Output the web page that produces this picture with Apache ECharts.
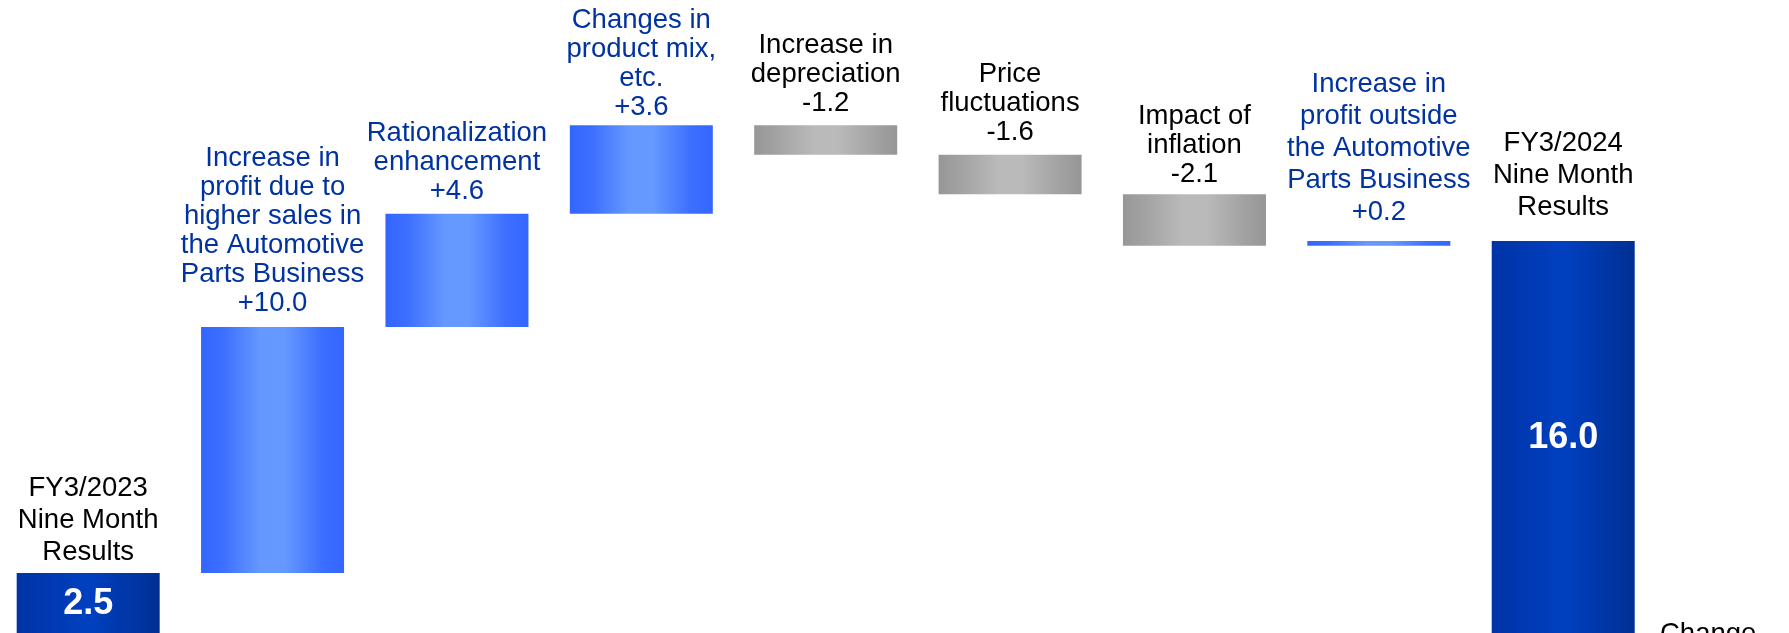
<!DOCTYPE html>
<html>
<head>
<meta charset="utf-8">
<script src="https://cdn.jsdelivr.net/npm/echarts@6/dist/echarts.min.js"></script>
<style>
html,body{margin:0;padding:0;background:#fff;}
#c{width:1789px;height:633px;}
</style>
</head>
<body>
<div id="c"></div>
<script>
// ---- data ----
const categories = [
  'FY3/2023\nNine Month\nResults',
  'Increase in\nprofit due to\nhigher sales in\nthe Automotive\nParts Business',
  'Rationalization\nenhancement',
  'Changes in\nproduct mix,\netc.',
  'Increase in\ndepreciation',
  'Price\nfluctuations',
  'Impact of\ninflation',
  'Increase in\nprofit outside\nthe Automotive\nParts Business',
  'FY3/2024\nNine Month\nResults'
];
const values = [2.5, 10.0, 4.6, 3.6, -1.2, -1.6, -2.1, 0.2, 16.0];
const kinds = ['total','delta','delta','delta','delta','delta','delta','delta','total'];
const footnote = 'Change';

// ---- label styling (per bar) ----
const labelGap = [5, 8.7, 7.6, 3.5, 7.6, 7.6, 5.5, 12.3, 17];
const labelLineHeight = [32, 29, 29, 29, 29, 29, 29, 32, 32];

// ---- derived ----
const blueGrad = new echarts.graphic.LinearGradient(0,0,1,0,[
  {offset:0,color:'#3366ff'},{offset:0.15,color:'#3c6eff'},
  {offset:0.42,color:'#6699ff'},{offset:0.58,color:'#6699ff'},
  {offset:0.85,color:'#3c6eff'},{offset:1,color:'#3366ff'}]);
const greyGrad = new echarts.graphic.LinearGradient(0,0,1,0,[
  {offset:0,color:'#979797'},{offset:0.15,color:'#a2a2a2'},
  {offset:0.42,color:'#bababa'},{offset:0.58,color:'#bababa'},
  {offset:0.85,color:'#a2a2a2'},{offset:1,color:'#969696'}]);
const darkGrad = new echarts.graphic.LinearGradient(0,0,1,0,[
  {offset:0,color:'#0033a6'},{offset:0.5,color:'#0040c0'},{offset:1,color:'#002f94'}]);

const baseData = [], visData = [], overlayData = [];
let cum = 0;
values.forEach((v, i) => {
  if (kinds[i] === 'total') {
    cum = v;
    baseData.push(0);
    visData.push({
      value: v,
      itemStyle: {color: darkGrad},
      label: {show: true, position: 'top', distance: labelGap[i], color: '#000',
        lineHeight: labelLineHeight[i], formatter: () => categories[i]}
    });
    overlayData.push(v);
  } else {
    const next = cum + v;
    baseData.push(Math.min(cum, next));
    visData.push({
      value: Math.abs(v),
      itemStyle: {color: v >= 0 ? blueGrad : greyGrad},
      label: {show: true, position: 'top', distance: labelGap[i], lineHeight: labelLineHeight[i],
        color: v >= 0 ? '#0033a0' : '#000',
        formatter: () => categories[i] + '\n' + (v >= 0 ? '+' : '') + v.toFixed(1)}
    });
    overlayData.push('-');
    cum = next;
  }
});

const FONT = '"Liberation Sans", Arial, sans-serif';
const chart = echarts.init(document.getElementById('c'), null, {renderer: 'canvas'});
chart.setOption({
  animation: false,
  backgroundColor: '#fff',
  textStyle: {fontFamily: FONT},
  grid: {left: -4, width: 1659.4, top: 19.5, height: 615, containLabel: false, outerBoundsMode: 'none'},
  xAxis: {type: 'category', data: categories, show: false},
  yAxis: {type: 'value', min: 0, max: 25, show: false},
  series: [
    {type: 'bar', stack: 'a', data: baseData, barWidth: 143, barGap: '-100%',
     itemStyle: {color: 'transparent'}, silent: true},
    {type: 'bar', stack: 'a', data: visData, barWidth: 143, barGap: '-100%',
     label: {fontFamily: FONT, fontSize: 27.5}},
    {type: 'bar', stack: 'b', data: overlayData, barWidth: 143, barGap: '-100%',
     itemStyle: {color: 'transparent'},
     label: {show: true, position: 'inside', color: '#fff', fontWeight: 'bold',
       fontFamily: FONT, fontSize: 36, formatter: p => Number(p.value).toFixed(1)}}
  ],
  graphic: [
    {type: 'text', left: 1660, top: 620,
     style: {text: footnote, fill: '#000', font: '27.5px ' + FONT}}
  ]
});
</script>
</body>
</html>
